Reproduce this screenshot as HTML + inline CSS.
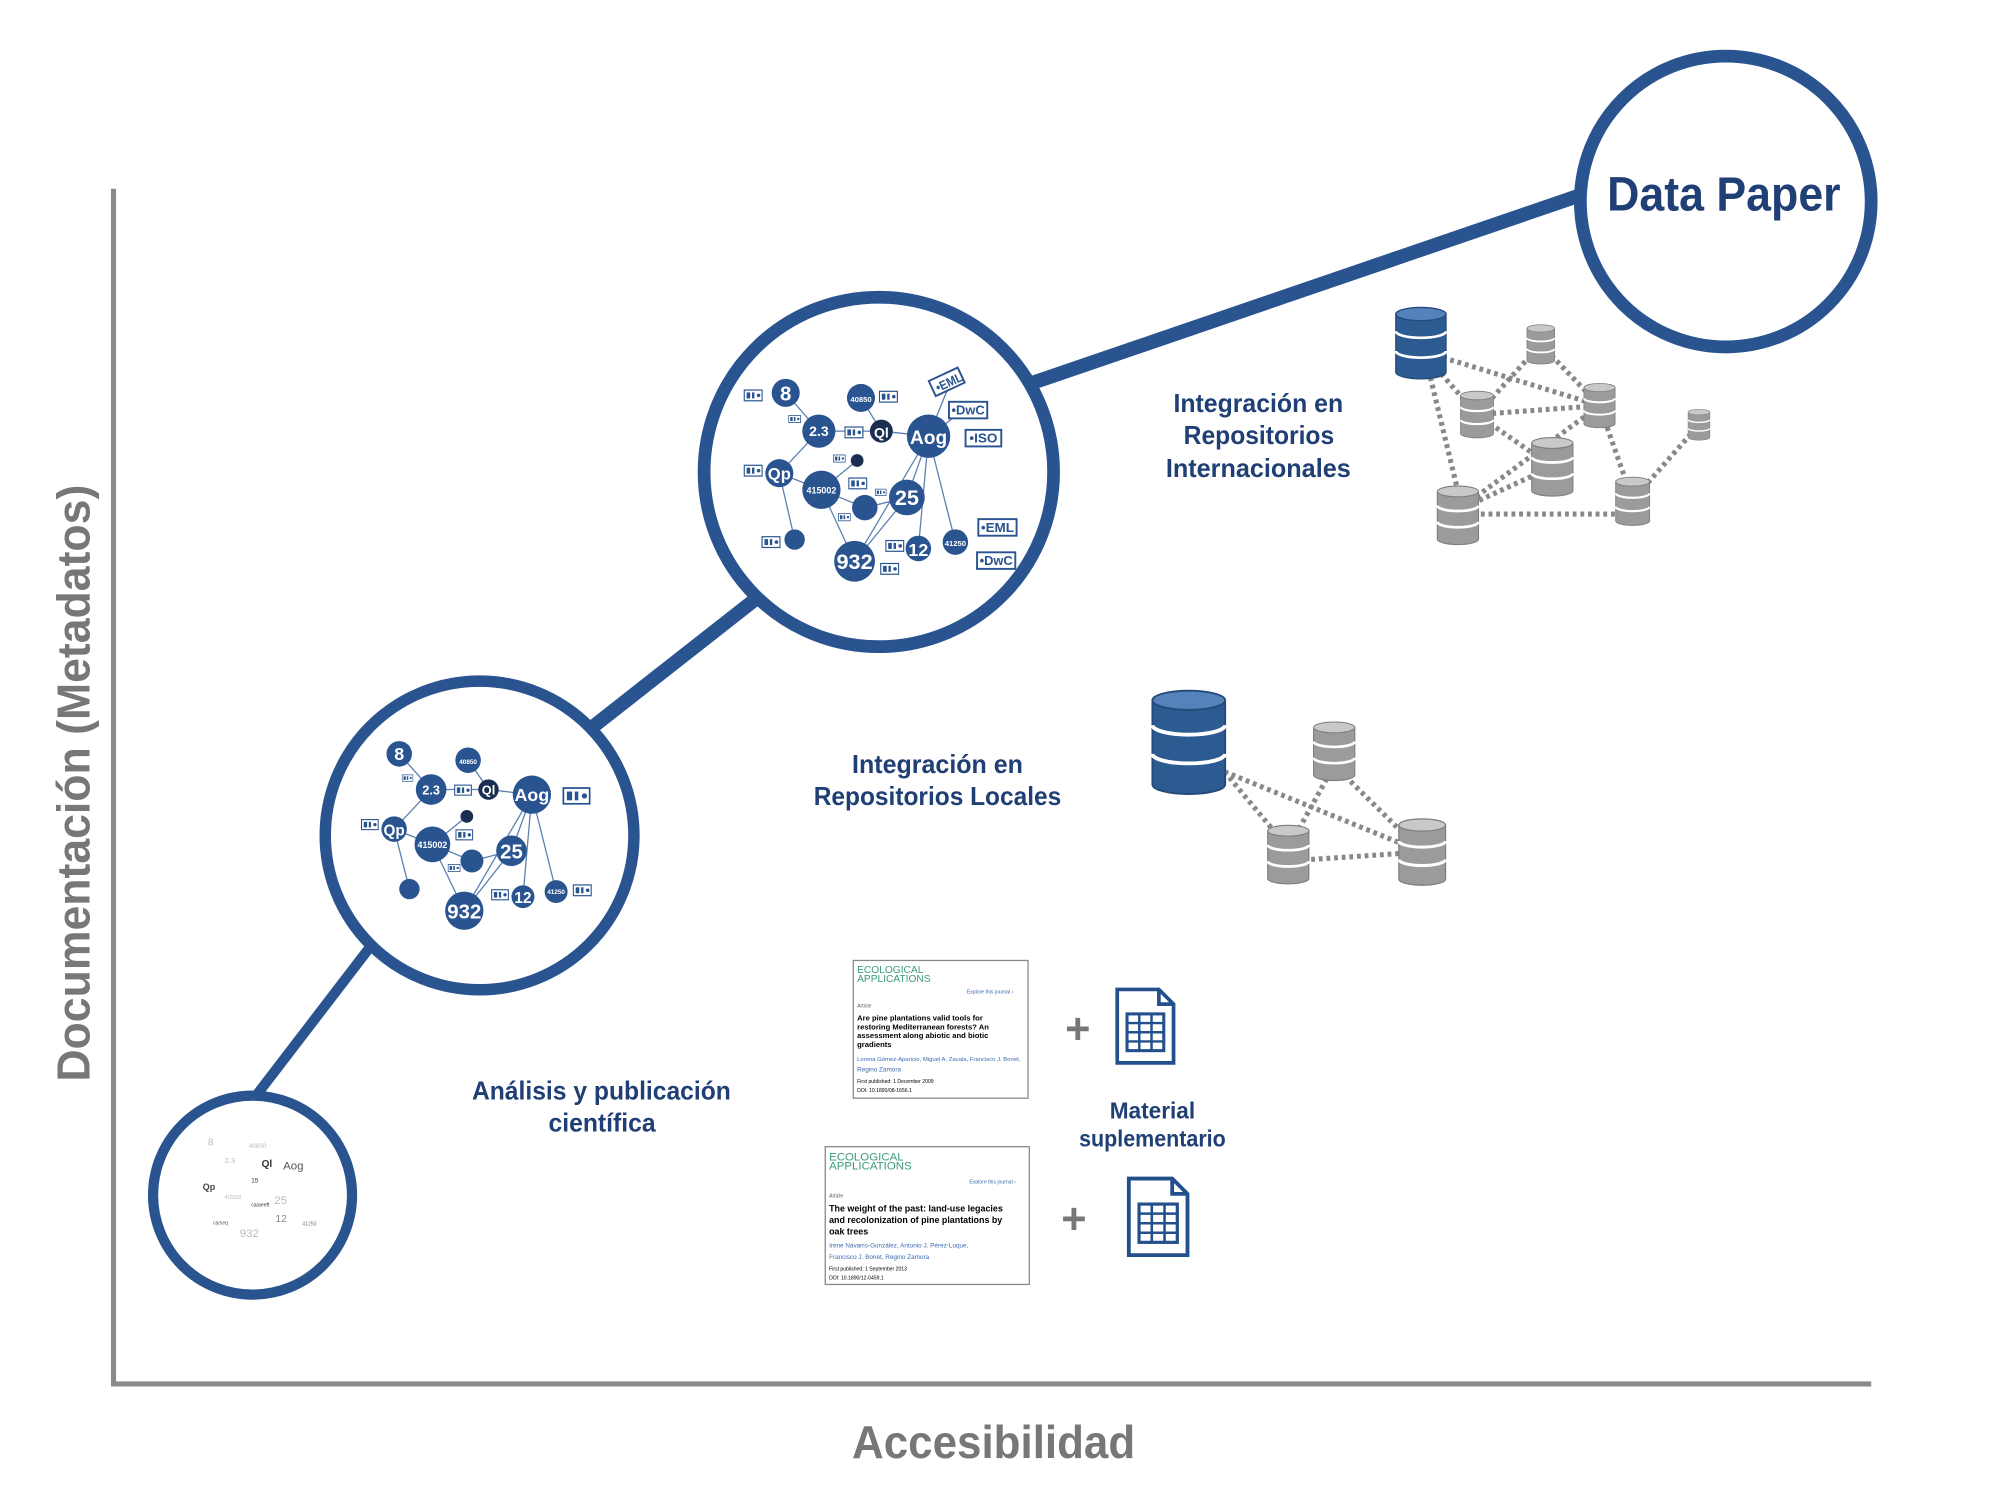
<!DOCTYPE html>
<html><head><meta charset="utf-8"><style>
html,body{margin:0;padding:0;background:#fff;}
svg{display:block;}
text{font-family:"Liberation Sans",sans-serif;}
</style></head><body>
<svg width="2000" height="1500" viewBox="0 0 1568 1176" xmlns="http://www.w3.org/2000/svg">
<defs>
<symbol id="dbg" viewBox="0 0 40 56">
<path d="M1 6 V50 A19 5 0 0 0 39 50 V6 Z" fill="#9b9b9b" stroke="#7d7d7d" stroke-width="1"/>
<path d="M1 19 A19 5 0 0 0 39 19" fill="none" stroke="#fff" stroke-width="2.5"/>
<path d="M1 34 A19 5 0 0 0 39 34" fill="none" stroke="#fff" stroke-width="2.5"/>
<ellipse cx="20" cy="6" rx="19" ry="5" fill="#c9c9c9" stroke="#7d7d7d" stroke-width="1"/>
</symbol>
<symbol id="dbb" viewBox="0 0 40 56">
<path d="M1 6 V50 A19 5 0 0 0 39 50 V6 Z" fill="#2c5b92" stroke="#234a7a" stroke-width="1"/>
<path d="M1 19 A19 5 0 0 0 39 19" fill="none" stroke="#fff" stroke-width="2"/>
<path d="M1 34 A19 5 0 0 0 39 34" fill="none" stroke="#fff" stroke-width="2"/>
<ellipse cx="20" cy="6" rx="19" ry="5" fill="#5582bb" stroke="#234a7a" stroke-width="1"/>
</symbol>
<symbol id="sheet" viewBox="0 0 50 64">
<path d="M2 2 H36 L48 14 V62 H2 Z" fill="#fff" stroke="#234f8c" stroke-width="3"/>
<path d="M36 2 V14 H48" fill="none" stroke="#234f8c" stroke-width="3"/>
<rect x="10" y="22" width="30" height="30" fill="none" stroke="#234f8c" stroke-width="2.5"/>
<path d="M20 22V52M30 22V52M10 29.5H40M10 37H40M10 44.5H40" stroke="#234f8c" stroke-width="2"/>
</symbol>
<symbol id="tag" viewBox="0 0 16 10">
<rect x="0.5" y="0.5" width="15" height="9" fill="#fff" stroke="#2a5490" stroke-width="1"/>
<rect x="2.5" y="2.5" width="3" height="5" fill="#2a5490"/><rect x="7" y="2.5" width="2" height="5" fill="#2a5490"/>
<circle cx="12.5" cy="5" r="1.5" fill="#2a5490"/>
</symbol>
</defs>

<line x1="89" y1="148" x2="89" y2="1086" stroke="#8a8a8a" stroke-width="4"/>
<line x1="87" y1="1085" x2="1467" y2="1085" stroke="#8a8a8a" stroke-width="4"/>
<text x="668" y="1143" font-size="36" font-weight="bold" fill="#777" textLength="222" lengthAdjust="spacingAndGlyphs">Accesibilidad</text>
<text transform="translate(70,848) rotate(-90)" font-size="36" font-weight="bold" fill="#777" textLength="468" lengthAdjust="spacingAndGlyphs">Documentación (Metadatos)</text>

<g stroke="#2a5490" stroke-linecap="butt">
<line x1="200" y1="860" x2="292" y2="740" stroke-width="8"/>
<line x1="462" y1="572" x2="592" y2="470" stroke-width="11"/>
<line x1="810" y1="300" x2="1242" y2="152" stroke-width="11"/>
</g>

<circle cx="198" cy="937" r="78" fill="#fff" stroke="#2a5490" stroke-width="8"/>
<circle cx="376" cy="655" r="121" fill="#fff" stroke="#2a5490" stroke-width="9"/>
<circle cx="689" cy="370" r="137" fill="#fff" stroke="#2a5490" stroke-width="10"/>
<circle cx="1353" cy="158" r="114" fill="#fff" stroke="#2a5490" stroke-width="10"/>
<text x="1260" y="165" font-size="38" font-weight="bold" fill="#1f3f75" textLength="183" lengthAdjust="spacingAndGlyphs">Data Paper</text>

<g font-size="8" fill="#bbb">
<text x="163" y="898">8</text><text x="195" y="900" font-size="5">40850</text>
<text x="176" y="912" font-size="6">2.3</text>
<text x="205" y="915" fill="#333" font-weight="bold">Ql</text>
<text x="222" y="917" fill="#555" font-size="9">Aog</text>
<text x="159" y="933" fill="#444" font-weight="bold" font-size="7">Qp</text>
<text x="197" y="927" fill="#333" font-size="5">15</text>
<text x="176" y="940" font-size="4">415002</text>
<text x="197" y="946" fill="#333" font-size="4">ca/aeeft</text>
<text x="215" y="944" font-size="9">25</text>
<text x="216" y="958" font-size="8" fill="#888">12</text>
<text x="167" y="960" font-size="4" fill="#555">ca/seq</text>
<text x="188" y="970" font-size="9">932</text>
<text x="237" y="961" font-size="4" fill="#777">41250</text>
</g>

<g stroke="#5a7fb0" stroke-width="1" fill="none">
<path d="M313 591L338 619L309 650L339 662L364 714M338 619L383 619L417 623L401 667L364 714M367 596L383 619M339 662L370 675L401 667M417 623L436 699M309 650L321 697M417 623L410 703M366 640L339 662M417 623L364 714"/>
</g>
<g fill="#2a5490">
<circle cx="313" cy="591" r="10"/><circle cx="367" cy="596" r="10"/><circle cx="338" cy="619" r="12"/>
<circle cx="383" cy="619" r="8" fill="#1a2f50"/><circle cx="417" cy="623" r="15"/><circle cx="309" cy="650" r="10"/>
<circle cx="339" cy="662" r="14"/><circle cx="366" cy="640" r="5" fill="#1a2f50"/><circle cx="370" cy="675" r="9"/>
<circle cx="401" cy="667" r="12"/><circle cx="321" cy="697" r="8"/><circle cx="364" cy="714" r="15"/>
<circle cx="410" cy="703" r="9"/><circle cx="436" cy="699" r="9"/>
</g>
<g fill="#fff" font-weight="bold" text-anchor="middle">
<text x="313" y="596" font-size="14">8</text><text x="338" y="623" font-size="10">2.3</text>
<text x="383" y="623" font-size="10">Ql</text><text x="417" y="628" font-size="14">Aog</text>
<text x="309" y="655" font-size="12">Qp</text><text x="339" y="665" font-size="7">415002</text>
<text x="401" y="673" font-size="16">25</text><text x="364" y="720" font-size="16">932</text>
<text x="410" y="708" font-size="12">12</text><text x="367" y="599" font-size="5">40850</text>
<text x="436" y="701" font-size="5">41250</text>
</g>
<use href="#tag" x="315" y="607" width="9" height="6"/><use href="#tag" x="356" y="615" width="14" height="9"/>
<use href="#tag" x="283" y="642" width="14" height="9"/><use href="#tag" x="441" y="617" width="22" height="14"/>
<use href="#tag" x="357" y="650" width="14" height="9"/><use href="#tag" x="351" y="677" width="10" height="7"/>
<use href="#tag" x="385" y="697" width="14" height="9"/><use href="#tag" x="449" y="693" width="15" height="10"/>

<g stroke="#5a7fb0" stroke-width="1" fill="none">
<path d="M616 308L642 338L611 371L644 384L670 440M642 338L691 338L728 342L711 390L670 440M675 312L691 338M644 384L678 398L711 390M728 342L749 425M611 371L623 423M728 342L720 430M672 361L644 384M728 342L670 440M728 342L745 300M728 342L755 322"/>
</g>
<g fill="#2a5490">
<circle cx="616" cy="308" r="11"/><circle cx="675" cy="312" r="11"/><circle cx="642" cy="338" r="13"/>
<circle cx="691" cy="338" r="9" fill="#1a2f50"/><circle cx="728" cy="342" r="17"/><circle cx="611" cy="371" r="11"/>
<circle cx="644" cy="384" r="15"/><circle cx="672" cy="361" r="5" fill="#1a2f50"/><circle cx="678" cy="398" r="10"/>
<circle cx="711" cy="390" r="14"/><circle cx="623" cy="423" r="8"/><circle cx="670" cy="440" r="16"/>
<circle cx="720" cy="430" r="10"/><circle cx="749" cy="425" r="10"/>
</g>
<g fill="#fff" font-weight="bold" text-anchor="middle">
<text x="616" y="314" font-size="16">8</text><text x="642" y="342" font-size="11">2.3</text>
<text x="691" y="343" font-size="11">Ql</text><text x="728" y="348" font-size="15">Aog</text>
<text x="611" y="376" font-size="13">Qp</text><text x="644" y="387" font-size="7">415002</text>
<text x="711" y="396" font-size="17">25</text><text x="670" y="446" font-size="17">932</text>
<text x="720" y="436" font-size="14">12</text><text x="675" y="315" font-size="6">40850</text>
<text x="749" y="428" font-size="6">41250</text>
</g>
<use href="#tag" x="583" y="305" width="15" height="10"/><use href="#tag" x="618" y="325" width="10" height="7"/>
<use href="#tag" x="662" y="334" width="15" height="10"/><use href="#tag" x="689" y="306" width="15" height="10"/>
<use href="#tag" x="583" y="364" width="15" height="10"/><use href="#tag" x="665" y="374" width="15" height="10"/>
<use href="#tag" x="653" y="356" width="10" height="7"/><use href="#tag" x="657" y="402" width="10" height="7"/>
<use href="#tag" x="686" y="383" width="9" height="6"/><use href="#tag" x="597" y="420" width="15" height="10"/>
<use href="#tag" x="694" y="423" width="15" height="10"/><use href="#tag" x="690" y="441" width="15" height="10"/>
<g fill="#fff" stroke="#2a5490" stroke-width="1.5">
<rect x="730" y="293" width="25" height="13" transform="rotate(-25 742 300)"/>
<rect x="744" y="315" width="30" height="13"/><rect x="757" y="337" width="28" height="13"/>
<rect x="767" y="407" width="30" height="13"/><rect x="766" y="433" width="30" height="13"/>
</g>
<g fill="#2a5490" font-size="10" font-weight="bold">
<text x="733" y="304" transform="rotate(-25 742 300)" textLength="22" lengthAdjust="spacingAndGlyphs">•EML</text>
<text x="746" y="325" textLength="26" lengthAdjust="spacingAndGlyphs">•DwC</text><text x="760" y="347" textLength="22" lengthAdjust="spacingAndGlyphs">•ISO</text>
<text x="769" y="417" textLength="26" lengthAdjust="spacingAndGlyphs">•EML</text><text x="768" y="443" textLength="26" lengthAdjust="spacingAndGlyphs">•DwC</text>
</g>

<g fill="#1f3f75" font-weight="bold" font-size="20">
<text x="920" y="323" textLength="133" lengthAdjust="spacingAndGlyphs">Integración en</text>
<text x="928" y="348" textLength="118" lengthAdjust="spacingAndGlyphs">Repositorios</text>
<text x="914" y="374" textLength="145" lengthAdjust="spacingAndGlyphs">Internacionales</text>
<text x="668" y="606" textLength="134" lengthAdjust="spacingAndGlyphs">Integración en</text>
<text x="638" y="631" textLength="194" lengthAdjust="spacingAndGlyphs">Repositorios Locales</text>
<text x="370" y="862" textLength="203" lengthAdjust="spacingAndGlyphs">Análisis y publicación</text>
<text x="430" y="887" textLength="84" lengthAdjust="spacingAndGlyphs">científica</text>
<text x="870" y="877" font-size="18" textLength="67" lengthAdjust="spacingAndGlyphs">Material</text>
<text x="846" y="899" font-size="18" textLength="115" lengthAdjust="spacingAndGlyphs">suplementario</text>
</g>

<g stroke="#888" stroke-width="4" stroke-dasharray="3 3" fill="none">
<path d="M1114 275L1158 325M1114 275L1254 318M1120 290L1143 385M1158 325L1254 318M1208 270L1158 325M1208 270L1254 318M1158 325L1217 366M1217 366L1143 400M1143 403L1280 403M1254 318L1280 392M1280 392L1332 333M1143 400L1254 318"/>
</g>
<use href="#dbb" x="1092" y="240" width="44" height="58"/>
<use href="#dbg" x="1126" y="375" width="34" height="58"/>
<use href="#dbg" x="1200" y="342" width="34" height="48"/>
<use href="#dbg" x="1144" y="306" width="28" height="38"/>
<use href="#dbg" x="1238" y="300" width="32" height="36"/>
<use href="#dbg" x="1195" y="254" width="26" height="32"/>
<use href="#dbg" x="1266" y="369" width="28" height="48"/>
<use href="#dbg" x="1323" y="315" width="18" height="36"/>

<g stroke="#888" stroke-width="4" stroke-dasharray="3 3" fill="none">
<path d="M960 605L1010 665M960 605L1115 668M1046 600L1010 665M1046 600L1115 668M1010 675L1115 668"/>
</g>
<use href="#dbb" x="902" y="538" width="60" height="88"/>
<use href="#dbg" x="1029" y="565" width="34" height="48"/>
<use href="#dbg" x="993" y="641" width="34" height="58"/>
<use href="#dbg" x="1095" y="641" width="40" height="54"/>

<rect x="669" y="753" width="137" height="108" fill="#fff" stroke="#888" stroke-width="1"/>
<g font-size="6">
<text x="672" y="763" fill="#3a9a7a" font-size="8">ECOLOGICAL</text>
<text x="672" y="770" fill="#3a9a7a" font-size="8">APPLICATIONS</text>
<text x="758" y="779" fill="#3a6ab0" font-size="4">Explore this journal ›</text>
<text x="672" y="790" fill="#555" font-size="4">Article</text>
<text x="672" y="800" font-weight="bold">Are pine plantations valid tools for</text>
<text x="672" y="807" font-weight="bold">restoring Mediterranean forests? An</text>
<text x="672" y="814" font-weight="bold">assessment along abiotic and biotic</text>
<text x="672" y="821" font-weight="bold">gradients</text>
<text x="672" y="832" fill="#3a6ab0" font-size="4.5" textLength="128" lengthAdjust="spacingAndGlyphs">Lorena Gómez-Aparicio, Miguel A. Zavala, Francisco J. Bonet,</text>
<text x="672" y="840" fill="#3a6ab0" font-size="5">Regino Zamora</text>
<text x="672" y="849" font-size="4">First published: 1 December 2009</text>
<text x="672" y="856" font-size="4">DOI: 10.1890/08-1656.1</text>
</g>
<rect x="647" y="899" width="160" height="108" fill="#fff" stroke="#888" stroke-width="1"/>
<g font-size="7">
<text x="650" y="910" fill="#3a9a7a" font-size="9">ECOLOGICAL</text>
<text x="650" y="917" fill="#3a9a7a" font-size="9">APPLICATIONS</text>
<text x="760" y="928" fill="#3a6ab0" font-size="4">Explore this journal ›</text>
<text x="650" y="939" fill="#555" font-size="4">Article</text>
<text x="650" y="950" font-weight="bold">The weight of the past: land-use legacies</text>
<text x="650" y="959" font-weight="bold">and recolonization of pine plantations by</text>
<text x="650" y="968" font-weight="bold">oak trees</text>
<text x="650" y="978" fill="#3a6ab0" font-size="5">Irene Navarro-González, Antonio J. Pérez-Luque,</text>
<text x="650" y="987" fill="#3a6ab0" font-size="5">Francisco J. Bonet, Regino Zamora</text>
<text x="650" y="996" font-size="4">First published: 1 September 2013</text>
<text x="650" y="1003" font-size="4">DOI: 10.1890/12-0459.1</text>
</g>
<g fill="#777" font-size="34" font-weight="bold" text-anchor="middle">
<text x="845" y="818">+</text><text x="842" y="967">+</text>
</g>
<use href="#sheet" x="874" y="773" width="48" height="63"/>
<use href="#sheet" x="883" y="922" width="50" height="64"/>
</svg>
</body></html>
